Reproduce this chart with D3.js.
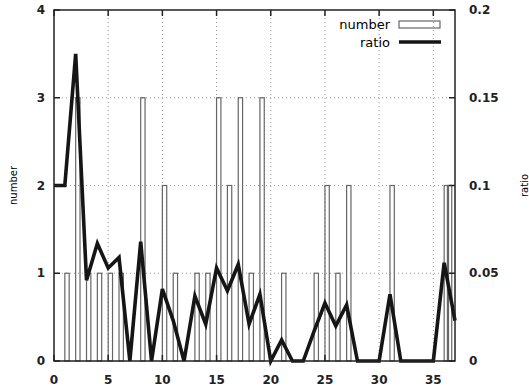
<!DOCTYPE html>
<html>
<head>
<meta charset="utf-8">
<script src="https://cdn.jsdelivr.net/npm/d3@7"></script>
<style>
  body { margin: 0; background: #fff; }
  text { font-family: "DejaVu Sans", Verdana, sans-serif; }
</style>
</head>
<body>
<div id="chart"></div>
<script>
// bars: "number" per x (zero counts left out)
const barX = [1, 2, 3, 4, 5, 6, 8, 10, 11, 13, 14, 15, 16, 17, 18, 19, 21, 24, 25, 26, 27, 31, 36, 36.3];
const barN = [1, 3, 1, 1, 1, 1, 3, 2, 1, 1, 1, 3, 2, 3, 1, 3, 1, 1, 2, 1, 2, 2, 2, 2];

// line: "ratio" per x
const lineX = [0, 1, 2, 3, 4, 5, 6, 7, 8, 9, 10, 11, 12, 13, 14, 15, 16, 17, 18, 19, 20,
               21, 22, 23, 24, 25, 26, 27, 28, 29, 30, 31, 32, 33, 34, 35, 36, 37];
const ratio = [0.1, 0.1, 0.175, 0.046, 0.067, 0.053, 0.059, 0, 0.068, 0, 0.041, 0.023, 0, 0.037, 0.021,
               0.053, 0.04, 0.055, 0.021, 0.038, 0, 0.012, 0, 0, 0.017, 0.033, 0.02, 0.032, 0, 0, 0,
               0.038, 0, 0, 0, 0, 0.056, 0.023];

const xTicks = [0, 5, 10, 15, 20, 25, 30, 35];
const yTicks = [0, 1, 2, 3, 4];
const y2Ticks = [0, 0.05, 0.1, 0.15, 0.2];

const svgWidth = 529, svgHeight = 387;
const plotL = 54, plotR = 455, plotT = 10, plotB = 361;

const svg = d3.select("#chart").append("svg")
    .attr("width", svgWidth)
    .attr("height", svgHeight);

const x = d3.scaleLinear().domain([0, 37]).range([plotL, plotR]);
const y = d3.scaleLinear().domain([0, 4]).range([plotB, plotT]);
const y2 = d3.scaleLinear().domain([0, 0.2]).range([plotB, plotT]);

// grid (dotted)
const grid = svg.append("g").attr("stroke", "#9a9a9a").attr("stroke-dasharray", "1,3").attr("stroke-width", 1);
grid.selectAll(".gx").data(xTicks.filter(d => d > 0))
    .enter().append("line")
    .attr("x1", d => x(d)).attr("x2", d => x(d))
    .attr("y1", plotT).attr("y2", plotB);
grid.selectAll(".gy").data(yTicks.filter(d => d > 0 && d < 4))
    .enter().append("line")
    .attr("x1", plotL).attr("x2", plotR)
    .attr("y1", d => y(d)).attr("y2", d => y(d));

// bars, hollow
const bw = 0.4;
svg.append("g").selectAll("rect")
    .data(barX.map((d, i) => ({ x: d, n: barN[i] })))
    .enter().append("rect")
    .attr("x", d => x(d.x))
    .attr("y", d => y(d.n))
    .attr("width", x(bw) - x(0))
    .attr("height", d => y(0) - y(d.n))
    .attr("fill", "none")
    .attr("stroke", "#666")
    .attr("stroke-width", 1.2);

// ratio line
const line = d3.line()
    .x((d, i) => x(lineX[i]))
    .y(d => y2(d));
svg.append("path")
    .datum(ratio)
    .attr("d", line)
    .attr("fill", "none")
    .attr("stroke", "#151515")
    .attr("stroke-width", 3.6)
    .attr("stroke-linejoin", "miter");

// border
svg.append("rect")
    .attr("x", plotL).attr("y", plotT)
    .attr("width", plotR - plotL).attr("height", plotB - plotT)
    .attr("fill", "none").attr("stroke", "#222").attr("stroke-width", 1.5);

// ticks (inward, gnuplot style)
const tl = 6;
const ticks = svg.append("g").attr("stroke", "#222").attr("stroke-width", 1.5);
xTicks.forEach(d => {
    ticks.append("line").attr("x1", x(d)).attr("x2", x(d)).attr("y1", plotB).attr("y2", plotB - tl);
    ticks.append("line").attr("x1", x(d)).attr("x2", x(d)).attr("y1", plotT).attr("y2", plotT + tl);
});
yTicks.forEach(d => {
    ticks.append("line").attr("x1", plotL).attr("x2", plotL + tl).attr("y1", y(d)).attr("y2", y(d));
});
y2Ticks.forEach(d => {
    ticks.append("line").attr("x1", plotR).attr("x2", plotR - tl).attr("y1", y2(d)).attr("y2", y2(d));
});

// tick labels
const lab = svg.append("g").attr("font-size", 12).attr("font-weight", "bold").attr("fill", "#222");
lab.selectAll(".xl").data(xTicks).enter().append("text")
    .attr("x", d => x(d)).attr("y", 384)
    .attr("text-anchor", "middle")
    .text(d => d);
lab.selectAll(".yl").data(yTicks).enter().append("text")
    .attr("x", 45).attr("y", d => y(d) + 4)
    .attr("text-anchor", "end")
    .text(d => d);
lab.selectAll(".y2l").data(y2Ticks).enter().append("text")
    .attr("x", 469).attr("y", d => y2(d) + 4)
    .attr("text-anchor", "start")
    .text(d => d);

// axis titles
svg.append("text")
    .attr("transform", "translate(17," + (plotT + plotB) / 2 + ") rotate(-90)")
    .attr("text-anchor", "middle")
    .attr("font-size", 10)
    .text("number");
svg.append("text")
    .attr("transform", "translate(528," + (plotT + plotB) / 2 + ") rotate(-90)")
    .attr("text-anchor", "middle")
    .attr("font-size", 10)
    .text("ratio");

// legend
const lg = svg.append("g").attr("font-size", 13);
lg.append("text").attr("x", 390).attr("y", 29).attr("text-anchor", "end").text("number");
lg.append("rect").attr("x", 399).attr("y", 21).attr("width", 41).attr("height", 7)
    .attr("fill", "none").attr("stroke", "#666").attr("stroke-width", 1.2);
lg.append("text").attr("x", 390).attr("y", 47).attr("text-anchor", "end").text("ratio");
lg.append("line").attr("x1", 399).attr("x2", 441).attr("y1", 42).attr("y2", 42)
    .attr("stroke", "#151515").attr("stroke-width", 3.6);
</script>
</body>
</html>
